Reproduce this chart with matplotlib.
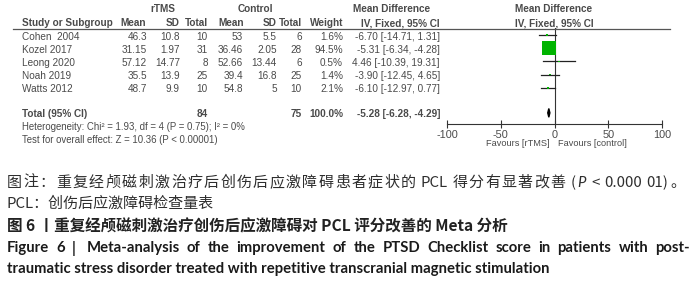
import matplotlib
matplotlib.use("Agg")
import matplotlib.pyplot as plt
from matplotlib.lines import Line2D
import numpy as np
import re

# study data
studies = ["Cohen  2004", "Kozel 2017", "Leong 2020", "Noah 2019", "Watts 2012"]
rtms_mean = ["46.3", "31.15", "57.12", "35.5", "48.7"]
rtms_sd = ["10.8", "1.97", "14.77", "13.9", "9.9"]
rtms_n = [10, 31, 8, 25, 10]
ctrl_mean = ["53", "36.46", "52.66", "39.4", "54.8"]
ctrl_sd = ["5.5", "2.05", "13.44", "16.8", "5"]
ctrl_n = [6, 28, 6, 25, 10]
weight = [1.6, 94.5, 0.5, 1.4, 2.1]
md = [-6.70, -5.31, 4.46, -3.90, -6.10]
ci_lo = [-14.71, -6.34, -10.39, -12.45, -12.97]
ci_hi = [1.31, -4.28, 19.31, 4.65, 0.77]
total_md, total_lo, total_hi = -5.28, -6.28, -4.29
xticks = [-100, -50, 0, 50, 100]

cap1 = "图注：重复经颅磁刺激治疗后创伤后应激障碍患者症状的 PCL 得分有显著改善 (P < 0.000 01)。"
cap2 = "PCL：创伤后应激障碍检查量表"
cap3 = "图 6 丨重复经颅磁刺激治疗创伤后应激障碍对 PCL 评分改善的 Meta 分析"
cap4 = "Figure 6 |  Meta-analysis of the improvement of the PTSD Checklist score in patients with post-"
cap5 = "traumatic stress disorder treated with repetitive transcranial magnetic stimulation"

W, H = 700, 288
fig = plt.figure(figsize=(W / 100, H / 100), dpi=100)
fig.patch.set_facecolor("white")
renderer = fig.canvas.get_renderer()

grey = "#4a4a4a"
tfont = ["Liberation Sans", "DejaVu Sans"]
cjk = ["Noto Sans CJK SC", "DejaVu Sans"]
latin = ["Lato", "DejaVu Sans"]

CJK = "\u3000-\u9fff\uff00-\uffef"


def px(x, y):
    return x / W, 1 - y / H


def put(x, y, s, ha="left", size=7.2, weight="normal", color=grey, family=tfont, style="normal"):
    return fig.text(*px(x, y), s, ha=ha, va="center", fontsize=size,
                    fontweight=weight, color=color, family=family, style=style)


def justify(s, x0, x1, y, pattern, italic=(), **kw):
    # spread the line over x0..x1, extra space goes between the matched units
    probe = put(0, 0, "", **kw)

    def width(t):
        if not t:
            return 0.0
        probe.set_text(t + ".")
        a = probe.get_window_extent(renderer).width
        probe.set_text(".")
        return a - probe.get_window_extent(renderer).width

    units = [(m.start(), m.group()) for m in re.finditer(pattern, s)]
    extra = (x1 - x0 - width(s)) / (len(units) - 1)
    for k, (j, u) in enumerate(units):
        if j in italic:
            args = dict(kw, family=latin)
            put(x0 + width(s[:j]) + k * extra, y, u, style="italic", **args)
        else:
            put(x0 + width(s[:j]) + k * extra, y, u, **kw)
    probe.remove()


# row layout (pixels from top)
row0, step = 35.0, 13.2
total_row = 5.9


def row_px(i):
    return row0 + i * step + 1.5


# headers
put(163, 9, "rTMS", ha="center", weight="bold")
put(255, 9, "Control", ha="center", weight="bold")
put(392, 9, "Mean Difference", ha="center", weight="bold")
put(554, 9, "Mean Difference", ha="center", weight="bold")
hy = 23
put(22, hy, "Study or Subgroup", weight="bold")
put(120, hy, "Mean", weight="bold")
put(180, hy, "SD", ha="right", weight="bold")
put(208, hy, "Total", ha="right", weight="bold")
put(218, hy, "Mean", weight="bold")
put(277, hy, "SD", ha="right", weight="bold")
put(302, hy, "Total", ha="right", weight="bold")
put(343, hy, "Weight", ha="right", weight="bold")
put(440, hy, "IV, Fixed, 95% CI", ha="right", weight="bold")
put(554, hy, "IV, Fixed, 95% CI", ha="center", weight="bold")
fig.add_artist(Line2D([13 / W, 670 / W], [1 - 29 / H, 1 - 29 / H],
                      color="#555555", lw=0.9))

for i, name in enumerate(studies):
    y = row_px(i)
    put(22, y, name)
    put(147, y, rtms_mean[i], ha="right")
    put(180, y, rtms_sd[i], ha="right")
    put(208, y, str(rtms_n[i]), ha="right")
    put(243, y, ctrl_mean[i], ha="right")
    put(277, y, ctrl_sd[i], ha="right")
    put(302, y, str(ctrl_n[i]), ha="right")
    put(343, y, f"{weight[i]:.1f}%", ha="right")
    put(440, y, f"{md[i]:.2f} [{ci_lo[i]:.2f}, {ci_hi[i]:.2f}]", ha="right")

ty = row_px(total_row)
put(22, ty, "Total (95% CI)", weight="bold")
put(208, ty, str(sum(rtms_n)), ha="right", weight="bold")
put(302, ty, str(sum(ctrl_n)), ha="right", weight="bold")
put(343, ty, "100.0%", ha="right", weight="bold")
put(440, ty, f"{total_md:.2f} [{total_lo:.2f}, {total_hi:.2f}]", ha="right", weight="bold")
put(22, 127, "Heterogeneity: Chi² = 1.93, df = 4 (P = 0.75); I² = 0%", size=6.9)
put(22, 140, "Test for overall effect: Z = 10.36 (P < 0.00001)", size=6.9)

# forest plot
ax_top, ax_bot = 28, 124
ax = fig.add_axes([447 / W, 1 - ax_bot / H, (662 - 447) / W, (ax_bot - ax_top) / H])
ax.set_xlim(-100, 100)
ax.set_ylim((ax_bot - row0) / step, (ax_top - row0) / step)
ax.patch.set_alpha(0)
for s in ["top", "right", "left"]:
    ax.spines[s].set_visible(False)
ax.spines["bottom"].set_color("#333333")
ax.spines["bottom"].set_linewidth(0.8)
ax.set_yticks([])
ax.set_xticks(xticks)
ax.set_xticklabels([str(t) for t in xticks], fontsize=7.8, color=grey, family=tfont)
ax.tick_params(axis="x", direction="inout", length=6, width=0.8, color="#333333", pad=1)
ax.axvline(0, color="#333333", lw=0.8)

rows = np.arange(len(studies))
for i in rows:
    ax.plot([ci_lo[i], ci_hi[i]], [i, i], color="#222222", lw=0.9)
# marker side proportional to sqrt(weight); Kozel ~13.5 px
side = 13.5 * np.sqrt(np.array(weight) / max(weight)) * 0.72
ax.scatter(md, rows, marker="s", s=np.maximum(side, 1.2) ** 2, color="#00b400",
           edgecolors="none", zorder=3)
dh = 0.33
ax.fill([total_lo, total_md, total_hi, total_md],
        [total_row, total_row - dh, total_row, total_row + dh],
        color="black", zorder=3)

put(550, 143, "Favours [rTMS]", ha="right", size=6.6)
put(558, 143, "Favours [control]", size=6.6)

# captions
capc = "#2e2e2e"
cjk_units = rf"[{CJK}]|\(|[^\s{CJK}(]+"
justify(cap1, 7, 685, 183, cjk_units, italic=(cap1.index("(P") + 1,),
        size=10.8, color=capc, family=cjk)
put(7, 204, cap2, size=10.8, color=capc, family=cjk)
put(7, 226, cap3, size=11.2, color="#222222", weight="bold", family=cjk)
justify(cap4, 7, 690, 248, r"\S+", size=10.7, color="#1a1a1a", weight="bold", family=latin)
put(7, 269, cap5, size=10.7, color="#1a1a1a", weight="bold", family=latin)

fig.savefig("out.png", dpi=100, facecolor="white")
